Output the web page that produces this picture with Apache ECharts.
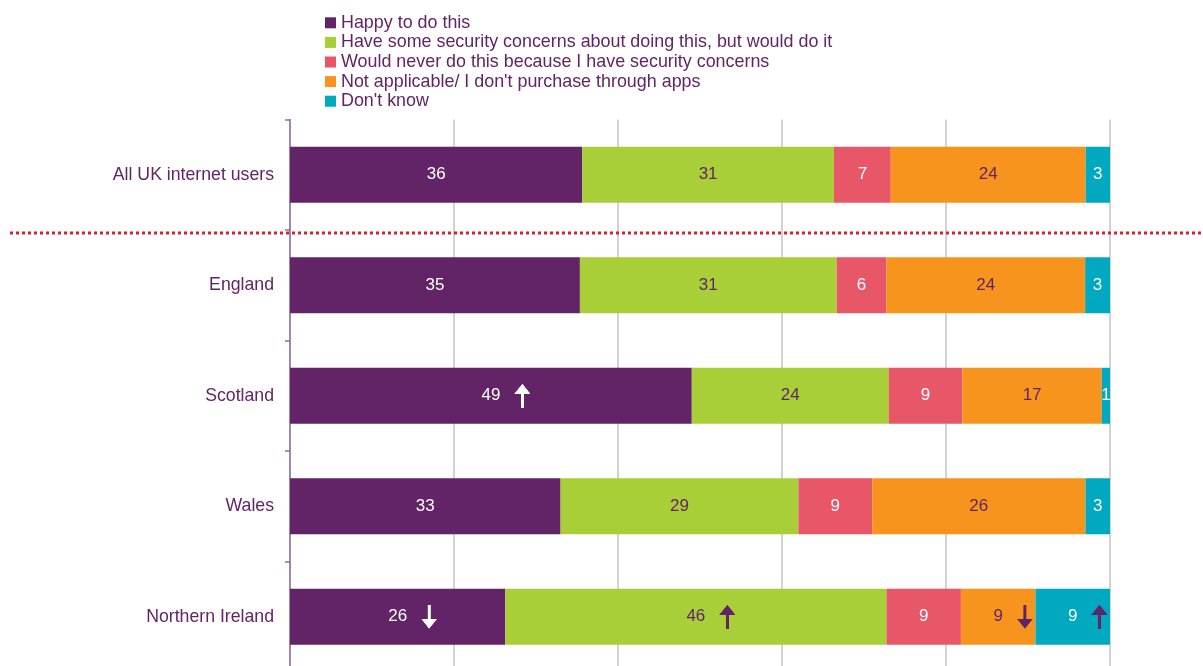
<!DOCTYPE html>
<html>
<head>
<meta charset="utf-8">
<style>
  html, body { margin: 0; padding: 0; background: #ffffff; }
  #chart { width: 1203px; height: 666px; }
</style>
<script src="https://cdn.jsdelivr.net/npm/echarts@6/dist/echarts.min.js"></script>
</head>
<body>
<div id="chart"></div>
<script>
// Attitudes to purchasing through apps, by nation (% of internet users)
const categories = ['All UK internet users', 'England', 'Scotland', 'Wales', 'Northern Ireland'];
const seriesNames = [
  'Happy to do this',
  'Have some security concerns about doing this, but would do it',
  'Would never do this because I have security concerns',
  "Not applicable/ I don't purchase through apps",
  "Don't know"
];
const happy         = [36, 35, 49, 33, 26];
const concerns      = [31, 31, 24, 29, 46];
const neverDo       = [7, 6, 9, 9, 9];
const notApplicable = [24, 24, 17, 26, 9];
const dontKnow      = [3, 3, 1, 3, 9];

// Significant differences vs. all UK users ('up' = higher, 'down' = lower)
const happyFlags         = ['', '', 'up', '', 'down'];
const concernsFlags      = ['', '', '', '', 'up'];
const neverDoFlags       = ['', '', '', '', ''];
const notApplicableFlags = ['', '', '', '', 'down'];
const dontKnowFlags      = ['', '', '', '', 'up'];

const PURPLE = '#622466';
const WHITE = '#ffffff';
const colors = ['#622466', '#a8cf38', '#e85768', '#f7941e', '#00a9bf'];
const labelColors = [WHITE, PURPLE, WHITE, PURPLE, WHITE];
const arrowColors = [WHITE, PURPLE, WHITE, PURPLE, PURPLE];
const FONT = '"Liberation Sans", Arial, sans-serif';

const values = [happy, concerns, neverDo, notApplicable, dontKnow];
const flags = [happyFlags, concernsFlags, neverDoFlags, notApplicableFlags, dontKnowFlags];

// each row is shown as shares of its own total (100% stacked)
const rowTotals = categories.map((_, i) => values.reduce((s, arr) => s + arr[i], 0));

// arrow glyphs (with a leading gap) painted on small canvases, used as rich-text backgrounds
const ARROW_GAP = 14, ARROW_W = 16, ARROW_H = 24;
function makeArrow(dir, color) {
  const w = ARROW_GAP + ARROW_W, h = ARROW_H, s = 2;
  const c = document.createElement('canvas');
  c.width = w * s; c.height = h * s;
  const ctx = c.getContext('2d');
  ctx.scale(s, s);
  ctx.translate(ARROW_GAP, 0);
  ctx.fillStyle = color;
  ctx.beginPath();
  if (dir === 'up') {
    ctx.moveTo(8, 0); ctx.lineTo(16, 10); ctx.lineTo(9.5, 10); ctx.lineTo(9.5, 24);
    ctx.lineTo(6.5, 24); ctx.lineTo(6.5, 10); ctx.lineTo(0, 10);
  } else {
    ctx.moveTo(8, 24); ctx.lineTo(16, 14); ctx.lineTo(9.5, 14); ctx.lineTo(9.5, 0);
    ctx.lineTo(6.5, 0); ctx.lineTo(6.5, 14); ctx.lineTo(0, 14);
  }
  ctx.closePath();
  ctx.fill();
  return c;
}
const arrowImages = {
  upW: makeArrow('up', WHITE), downW: makeArrow('down', WHITE),
  upP: makeArrow('up', PURPLE), downP: makeArrow('down', PURPLE)
};

const series = values.map((arr, si) => {
  const flagArr = flags[si];
  const aw = arrowColors[si] === WHITE ? 'W' : 'P';
  return {
    name: seriesNames[si],
    type: 'bar',
    stack: 'total',
    barWidth: 56,
    itemStyle: { color: colors[si] },
    data: arr.map((v, i) => ({ value: v / rowTotals[i] * 100, raw: v, flag: flagArr[i] })),
    label: {
      show: true,
      position: 'inside',
      fontFamily: FONT,
      fontSize: 17,
      color: labelColors[si],
      formatter: (p) => {
        const d = p.data;
        if (d.flag) {
          return '{pad|}{num|' + d.raw + '}{' + d.flag + '|}';
        }
        return '{num|' + d.raw + '}';
      },
      rich: {
        pad: { width: ARROW_GAP + ARROW_W, height: ARROW_H, verticalAlign: 'middle' },
        num: { fontFamily: FONT, fontSize: 17, color: labelColors[si], verticalAlign: 'middle' },
        up: { width: ARROW_GAP + ARROW_W, height: ARROW_H, verticalAlign: 'middle',
              backgroundColor: { image: arrowImages['up' + aw] } },
        down: { width: ARROW_GAP + ARROW_W, height: ARROW_H, verticalAlign: 'middle',
                backgroundColor: { image: arrowImages['down' + aw] } }
      }
    },
    emphasis: { disabled: true }
  };
});

const chart = echarts.init(document.getElementById('chart'), null, { renderer: 'canvas' });
chart.setOption({
  animation: false,
  backgroundColor: '#ffffff',
  legend: {
    orient: 'vertical',
    left: 325,
    top: 13,
    padding: 0,
    itemWidth: 11,
    itemHeight: 11,
    itemGap: 0,
    icon: 'rect',
    data: seriesNames,
    textStyle: { fontFamily: FONT, fontSize: 17.9, color: PURPLE, lineHeight: 19.6 },
    selectedMode: false
  },
  grid: { left: 290, right: 93, top: 119.5, height: 552.5, containLabel: false, outerBoundsMode: 'none' },
  xAxis: {
    type: 'value',
    min: 0,
    max: 100,
    interval: 20,
    axisLabel: { show: false },
    axisLine: { show: false },
    axisTick: { show: false },
    splitLine: { show: true, lineStyle: { color: '#d2d2d2', width: 2 } }
  },
  yAxis: {
    type: 'category',
    inverse: true,
    data: categories,
    axisLine: { show: true, lineStyle: { color: '#8e6e9c', width: 1.5 } },
    axisTick: { show: true, length: 5, lineStyle: { color: '#8e6e9c', width: 1.5 } },
    axisLabel: { fontFamily: FONT, fontSize: 17.7, color: PURPLE, margin: 16 }
  },
  graphic: [{
    type: 'line',
    shape: { x1: 10, y1: 233, x2: 1203, y2: 233 },
    style: { stroke: '#dd2027', lineWidth: 3, lineDash: [3, 3] },
    z: 100
  }],
  series: series
});
</script>
</body>
</html>
